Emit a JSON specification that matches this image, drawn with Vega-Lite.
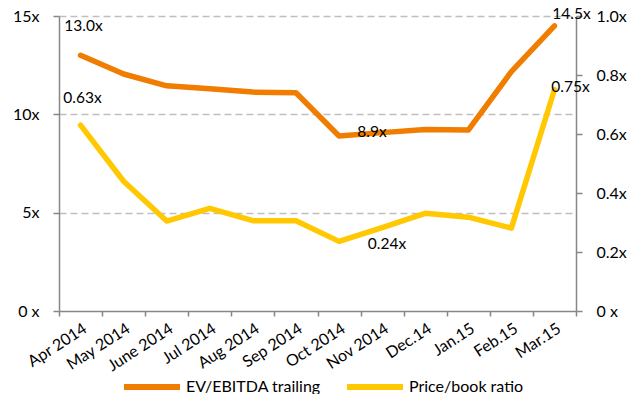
{
  "$schema": "https://vega.github.io/schema/vega-lite/v6.json",
  "width": 517,
  "height": 295,
  "autosize": {"type": "none"},
  "padding": {"left": 59, "top": 16, "right": 60, "bottom": 83},
  "background": "white",
  "config": {"font": "Lato", "view": {"stroke": null}},
  "data": {
    "values": [
      {"month": "Apr 2014", "ev": 13.0, "pb": 0.63, "ev_label": "13.0x", "pb_label": "0.63x"},
      {"month": "May 2014", "ev": 12.05, "pb": 0.44},
      {"month": "June 2014", "ev": 11.45, "pb": 0.305},
      {"month": "Jul 2014", "ev": 11.3, "pb": 0.348},
      {"month": "Aug 2014", "ev": 11.13, "pb": 0.306},
      {"month": "Sep 2014", "ev": 11.1, "pb": 0.306},
      {"month": "Oct 2014", "ev": 8.9, "pb": 0.236, "ev_label": "8.9x", "pb_label": "0.24x"},
      {"month": "Nov 2014", "ev": 9.07, "pb": 0.283},
      {"month": "Dec.14", "ev": 9.23, "pb": 0.331},
      {"month": "Jan.15", "ev": 9.2, "pb": 0.318},
      {"month": "Feb.15", "ev": 12.17, "pb": 0.281},
      {"month": "Mar.15", "ev": 14.5, "pb": 0.75, "ev_label": "14.5x", "pb_label": "0.75x"}
    ]
  },
  "encoding": {
    "x": {
      "field": "month",
      "type": "ordinal",
      "sort": null,
      "bandPosition": 0.5,
      "scale": {"type": "band", "paddingInner": 0, "paddingOuter": 0},
      "axis": {
        "title": null,
        "tickBand": "extent",
        "labelAngle": -33,
        "labelFontSize": 16,
        "labelColor": "#000000",
        "labelPadding": 4,
        "domainColor": "#878787",
        "domainWidth": 1.5,
        "tickColor": "#878787",
        "tickWidth": 1.5,
        "tickSize": 5,
        "grid": false
      }
    }
  },
  "layer": [
    {
      "encoding": {
        "y": {
          "field": "ev",
          "type": "quantitative",
          "scale": {"domain": [0, 15], "nice": false, "zero": true},
          "axis": {
            "orient": "left",
            "title": null,
            "values": [0, 5, 10, 15],
            "labelExpr": "datum.value === 0 ? '0 x' : datum.value + 'x'",
            "labelFontSize": 16,
            "labelColor": "#000000",
            "labelPadding": 14,
            "domainColor": "#878787",
            "domainWidth": 1.5,
            "tickColor": "#878787",
            "tickWidth": 1.5,
            "tickSize": 6,
            "grid": true,
            "gridColor": "#BFBFBF",
            "gridWidth": 1.5,
            "gridDash": [7, 4],
            "gridOpacity": {"condition": {"test": "datum.value === 0", "value": 0}, "value": 1}
          }
        }
      },
      "layer": [
        {
          "mark": {"type": "line", "strokeWidth": 5.5, "strokeCap": "round", "strokeJoin": "round"},
          "encoding": {
            "color": {
              "datum": "EV/EBITDA trailing",
              "scale": {"domain": ["EV/EBITDA trailing", "Price/book ratio"], "range": ["#F07C00", "#FFC800"]},
              "legend": {
                "title": null,
                "orient": "none",
                "direction": "horizontal",
                "legendX": 62,
                "legendY": 340,
                "symbolType": "stroke",
                "symbolSize": 3136,
                "symbolStrokeWidth": 6,
                "labelFontSize": 16,
                "labelColor": "#000000",
                "labelOffset": 3,
                "columnPadding": 14
              }
            }
          }
        },
        {
          "transform": [{"filter": "datum.month === 'Apr 2014'"}],
          "mark": {"type": "text", "fontSize": 15.5, "color": "#000000", "dx": 3, "dy": -29},
          "encoding": {"text": {"field": "ev_label"}}
        },
        {
          "transform": [{"filter": "datum.month === 'Oct 2014'"}],
          "mark": {"type": "text", "fontSize": 15.5, "color": "#000000", "dx": 33, "dy": -4},
          "encoding": {"text": {"field": "ev_label"}}
        },
        {
          "transform": [{"filter": "datum.month === 'Mar.15'"}],
          "mark": {"type": "text", "fontSize": 15.5, "color": "#000000", "dx": 17, "dy": -12},
          "encoding": {"text": {"field": "ev_label"}}
        }
      ]
    },
    {
      "encoding": {
        "y": {
          "field": "pb",
          "type": "quantitative",
          "scale": {"domain": [0, 1], "nice": false, "zero": true},
          "axis": {
            "orient": "right",
            "title": null,
            "values": [0, 0.2, 0.4, 0.6, 0.8, 1.0],
            "labelExpr": "datum.value === 0 ? '0 x' : format(datum.value, '.1f') + 'x'",
            "labelFontSize": 16,
            "labelColor": "#000000",
            "labelPadding": 14,
            "domainColor": "#878787",
            "domainWidth": 1.5,
            "tickColor": "#878787",
            "tickWidth": 1.5,
            "tickSize": 6,
            "grid": false
          }
        }
      },
      "layer": [
        {
          "mark": {"type": "line", "strokeWidth": 5.5, "strokeCap": "round", "strokeJoin": "round"},
          "encoding": {"color": {"datum": "Price/book ratio"}}
        },
        {
          "transform": [{"filter": "datum.month === 'Apr 2014'"}],
          "mark": {"type": "text", "fontSize": 15.5, "color": "#000000", "dx": 2, "dy": -27},
          "encoding": {"text": {"field": "pb_label"}}
        },
        {
          "transform": [{"filter": "datum.month === 'Oct 2014'"}],
          "mark": {"type": "text", "fontSize": 15.5, "color": "#000000", "dx": 48, "dy": 3},
          "encoding": {"text": {"field": "pb_label"}}
        },
        {
          "transform": [{"filter": "datum.month === 'Mar.15'"}],
          "mark": {"type": "text", "fontSize": 15.5, "color": "#000000", "dx": 16, "dy": -3},
          "encoding": {"text": {"field": "pb_label"}}
        }
      ]
    }
  ],
  "resolve": {"scale": {"y": "independent"}}
}
